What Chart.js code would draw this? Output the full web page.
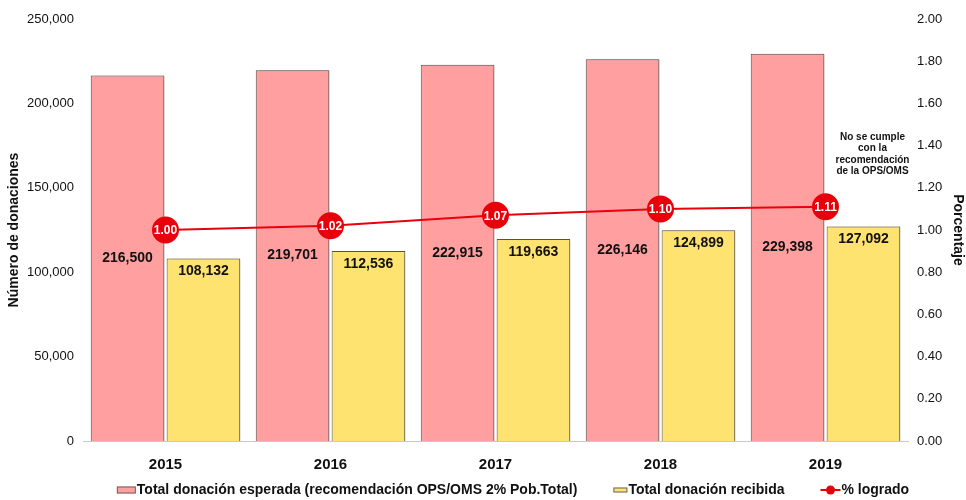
<!DOCTYPE html>
<html>
<head>
<meta charset="utf-8">
<script src="https://cdn.jsdelivr.net/npm/chart.js@4/dist/chart.umd.min.js"></script>
<style>
  html, body { margin: 0; padding: 0; background: #fff; }
  #wrap { width: 966px; height: 500px; }
</style>
</head>
<body>
<div id="wrap"><canvas id="chart" width="966" height="500"></canvas></div>
<script>
const years = ['2015', '2016', '2017', '2018', '2019'];
const expected = [216500, 219701, 222915, 226146, 229398];
const received = [108132, 112536, 119663, 124899, 127092];
const achieved = [1.00, 1.02, 1.07, 1.10, 1.11];
const note_lines = ['No se cumple', 'con la', 'recomendación', 'de la OPS/OMS'];

const PINK = '#ff9f9f';
const YELLOW = '#ffe370';
const RED = '#e8000b';
const FONT = 'Arial, "Liberation Sans", sans-serif';

function fmt(v) {
  return v.toLocaleString('en-US');
}

// soft drop shadow under the bars
const bar_shadow = {
  id: 'bar_shadow',
  beforeDatasetDraw(chart, args) {
    if (args.meta.type !== 'bar') return;
    const ctx = chart.ctx;
    ctx.save();
    ctx.shadowColor = 'rgba(0,0,0,0.35)';
    ctx.shadowBlur = 3;
    ctx.shadowOffsetX = 2;
    ctx.shadowOffsetY = 1;
  },
  afterDatasetDraw(chart, args) {
    if (args.meta.type !== 'bar') return;
    chart.ctx.restore();
  }
};

// value labels on bars / points, and the note
const value_labels = {
  id: 'value_labels',
  afterDatasetsDraw(chart) {
    const ctx = chart.ctx;
    ctx.save();
    ctx.textAlign = 'center';
    ctx.textBaseline = 'middle';
    chart.data.datasets.forEach((ds, i) => {
      const meta = chart.getDatasetMeta(i);
      meta.data.forEach((el, j) => {
        const v = ds.data[j];
        if (i === 0) {
          ctx.font = 'bold 14px ' + FONT;
          ctx.fillStyle = '#111';
          ctx.fillText(fmt(v), el.x, (el.y + el.base) / 2);
        }
        else if (i === 1) {
          ctx.font = 'bold 14px ' + FONT;
          ctx.fillStyle = '#111';
          ctx.fillText(fmt(v), el.x, el.y + 13);
        }
        else {
          ctx.font = 'bold 12px ' + FONT;
          ctx.fillStyle = '#fff';
          ctx.fillText(v.toFixed(2), el.x, el.y + 1);
        }
      });
    });
    const x = chart.scales.x.getPixelForValue(4) + 47;
    const y0 = chart.scales.y1.getPixelForValue(1.44);
    ctx.font = 'bold 10px ' + FONT;
    ctx.fillStyle = '#111';
    note_lines.forEach((t, k) => ctx.fillText(t, x, y0 + k * 11.5));
    ctx.restore();
  }
};

// legend drawn by hand so the spacing matches
const bottom_legend = {
  id: 'bottom_legend',
  afterDraw(chart) {
    const ctx = chart.ctx;
    const y = 490;
    const gap = 36;
    ctx.save();
    ctx.font = 'bold 14px ' + FONT;
    ctx.textBaseline = 'middle';
    ctx.textAlign = 'left';
    const items = chart.data.datasets.map((ds, i) => ({
      text: ds.label,
      color: ds.backgroundColor,
      kind: ds.type === 'line' ? 'line' : 'box',
      mw: ds.type === 'line' ? 20 : (i === 0 ? 19 : 14),
      tw: ctx.measureText(ds.label).width,
    }));
    var total = 0;
    items.forEach((it, k) => { total += it.mw + 1 + it.tw + (k ? gap : 0); });
    var x = chart.width / 2 + 30 - total / 2;
    items.forEach(it => {
      if (it.kind === 'box') {
        const h = it.mw > 15 ? 7 : 5;
        ctx.fillStyle = it.color;
        ctx.fillRect(x, y - h / 2, it.mw, h);
        ctx.strokeStyle = '#666';
        ctx.lineWidth = 1;
        ctx.strokeRect(x + 0.5, y - h / 2 + 0.5, it.mw - 1, h - 1);
      }
      else {
        ctx.strokeStyle = it.color;
        ctx.lineWidth = 2;
        ctx.beginPath();
        ctx.moveTo(x, y); ctx.lineTo(x + it.mw, y);
        ctx.stroke();
        ctx.fillStyle = it.color;
        ctx.beginPath();
        ctx.arc(x + it.mw / 2, y, 4.5, 0, Math.PI * 2);
        ctx.fill();
      }
      ctx.fillStyle = '#111';
      ctx.fillText(it.text, x + it.mw + 1, y);
      x += it.mw + 1 + it.tw + gap;
    });
    ctx.restore();
  }
};

new Chart(document.getElementById('chart'), {
  type: 'bar',
  data: {
    labels: years,
    datasets: [
      {
        label: 'Total donación esperada (recomendación OPS/OMS 2% Pob.Total)',
        data: expected,
        backgroundColor: PINK,
        borderColor: '#5e4a4a',
        borderWidth: 1,
        yAxisID: 'y',
        order: 1,
        categoryPercentage: 0.92,
        barPercentage: 0.97,
      },
      {
        label: 'Total donación recibida',
        data: received,
        backgroundColor: YELLOW,
        borderColor: '#5e5640',
        borderWidth: 1,
        yAxisID: 'y',
        order: 1,
        categoryPercentage: 0.92,
        barPercentage: 0.97,
      },
      {
        type: 'line',
        label: '% logrado',
        data: achieved,
        borderColor: RED,
        backgroundColor: RED,
        borderWidth: 2,
        pointRadius: 12.5,
        pointHoverRadius: 12.5,
        yAxisID: 'y1',
        order: 0,
      },
    ]
  },
  options: {
    responsive: false,
    animation: false,
    layout: { padding: { top: 19, bottom: 11, left: 4, right: 0 } },
    plugins: {
      tooltip: { enabled: false },
      legend: { display: false },
    },
    scales: {
      x: {
        grid: { display: false, drawTicks: false },
        border: { color: '#c8c8c8' },
        ticks: { color: '#111', font: { family: FONT, size: 15, weight: 'bold' }, padding: 15 },
      },
      y: {
        position: 'left',
        min: 0, max: 250000,
        grid: { display: false, drawTicks: false },
        border: { display: false },
        ticks: {
          stepSize: 50000,
          color: '#111',
          padding: 9,
          font: { family: FONT, size: 13 },
          callback: v => fmt(v),
        },
        title: {
          display: true,
          text: 'Número de donaciones',
          color: '#111',
          font: { family: FONT, size: 14, weight: 'bold' },
          padding: 2,
        },
        afterFit(scale) { scale.width = 79; },
      },
      y1: {
        position: 'right',
        min: 0, max: 2,
        grid: { display: false, drawTicks: false },
        border: { display: false },
        ticks: {
          stepSize: 0.2,
          color: '#111',
          padding: 9,
          font: { family: FONT, size: 13 },
          callback: v => v.toFixed(2),
        },
        title: {
          display: true,
          text: 'Porcentaje',
          color: '#111',
          font: { family: FONT, size: 14, weight: 'bold' },
          padding: 0,
        },
        afterFit(scale) { scale.width = 58; },
      },
    }
  },
  plugins: [bar_shadow, value_labels, bottom_legend],
});
</script>
</body>
</html>
